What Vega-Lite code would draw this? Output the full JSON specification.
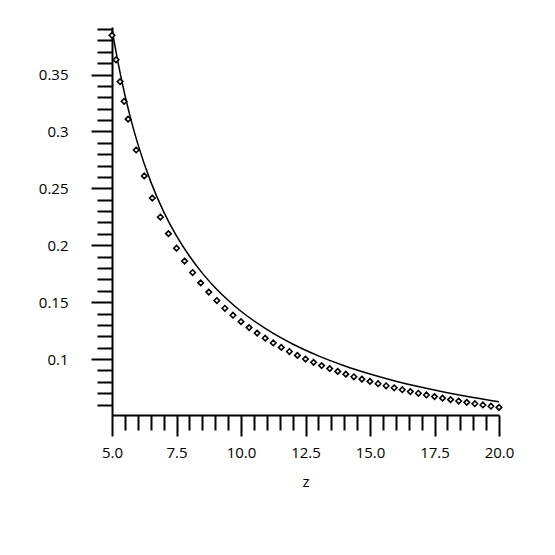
{
  "$schema": "https://vega.github.io/schema/vega-lite/v6.json",
  "autosize": "none",
  "width": 387,
  "height": 388,
  "padding": {"left": 112, "top": 27, "right": 56, "bottom": 140},
  "background": "white",
  "config": {"view": {"stroke": null}, "font": "Open Sans"},
  "datasets": {
    "curve": [
      {"z": 5, "y": 0.3900}, {"z": 5.25, "y": 0.3587}, {"z": 5.5, "y": 0.3320}, {"z": 5.75, "y": 0.3091},
      {"z": 6, "y": 0.2891}, {"z": 6.5, "y": 0.2559}, {"z": 7, "y": 0.2296}, {"z": 7.5, "y": 0.2082},
      {"z": 8, "y": 0.1905}, {"z": 8.5, "y": 0.1755}, {"z": 9, "y": 0.1627}, {"z": 9.5, "y": 0.1517},
      {"z": 10, "y": 0.1420}, {"z": 11, "y": 0.1260}, {"z": 12, "y": 0.1132}, {"z": 13, "y": 0.1028},
      {"z": 14, "y": 0.0941}, {"z": 15, "y": 0.0868}, {"z": 16, "y": 0.0805}, {"z": 17, "y": 0.0751},
      {"z": 18, "y": 0.0704}, {"z": 19, "y": 0.0662}, {"z": 20, "y": 0.0625}
    ],
    "pts": [
      {"z": 5, "y": 0.3845}, {"z": 5.156, "y": 0.3630}, {"z": 5.3125, "y": 0.3438}, {"z": 5.469, "y": 0.3265},
      {"z": 5.625, "y": 0.3108}, {"z": 5.9375, "y": 0.2837}, {"z": 6.25, "y": 0.2609}, {"z": 6.5625, "y": 0.2415},
      {"z": 6.875, "y": 0.2248}, {"z": 7.1875, "y": 0.2102}, {"z": 7.5, "y": 0.1974}, {"z": 7.8125, "y": 0.1861},
      {"z": 8.125, "y": 0.1760}, {"z": 8.4375, "y": 0.1669}, {"z": 8.75, "y": 0.1588}, {"z": 9.0625, "y": 0.1514},
      {"z": 9.375, "y": 0.1446}, {"z": 9.6875, "y": 0.1385}, {"z": 10, "y": 0.1328}, {"z": 10.3125, "y": 0.1276},
      {"z": 10.625, "y": 0.1228}, {"z": 10.9375, "y": 0.1183}, {"z": 11.25, "y": 0.1141}, {"z": 11.5625, "y": 0.1102},
      {"z": 11.875, "y": 0.1066}, {"z": 12.1875, "y": 0.1032}, {"z": 12.5, "y": 0.1000}, {"z": 12.8125, "y": 0.0971},
      {"z": 13.125, "y": 0.0942}, {"z": 13.4375, "y": 0.0916}, {"z": 13.75, "y": 0.0891}, {"z": 14.0625, "y": 0.0867},
      {"z": 14.375, "y": 0.0844}, {"z": 14.6875, "y": 0.0823}, {"z": 15, "y": 0.0803}, {"z": 15.3125, "y": 0.0783},
      {"z": 15.625, "y": 0.0765}, {"z": 15.9375, "y": 0.0747}, {"z": 16.25, "y": 0.0730}, {"z": 16.5625, "y": 0.0714},
      {"z": 16.875, "y": 0.0699}, {"z": 17.1875, "y": 0.0684}, {"z": 17.5, "y": 0.0670}, {"z": 17.8125, "y": 0.0656},
      {"z": 18.125, "y": 0.0643}, {"z": 18.4375, "y": 0.0631}, {"z": 18.75, "y": 0.0619}, {"z": 19.0625, "y": 0.0607},
      {"z": 19.375, "y": 0.0596}, {"z": 19.6875, "y": 0.0585}, {"z": 20, "y": 0.0575}
    ]
  },
  "encoding": {
    "x": {
      "field": "z", "type": "quantitative",
      "scale": {"domain": [5, 20], "nice": false, "zero": false},
      "axis": {
        "title": "z", "titleFontWeight": "normal", "titleFontSize": 15, "titleColor": "black", "titlePadding": 14,
        "values": [5, 5.5, 6, 6.5, 7, 7.5, 8, 8.5, 9, 9.5, 10, 10.5, 11, 11.5, 12, 12.5, 13, 13.5, 14, 14.5, 15, 15.5, 16, 16.5, 17, 17.5, 18, 18.5, 19, 19.5, 20],
        "labelExpr": "abs(datum.value/2.5 - round(datum.value/2.5)) < 0.001 ? format(datum.value, '.1f') : ''",
        "grid": false, "domainColor": "black", "domainWidth": 2,
        "tickColor": "black", "tickWidth": 2,
        "tickSize": {"condition": {"test": "abs(datum.value/2.5 - round(datum.value/2.5)) < 0.001", "value": 21}, "value": 15},
        "labelPadding": 9, "labelFontSize": 15, "labelColor": "black", "labelFlush": false, "labelOverlap": false
      }
    },
    "y": {
      "field": "y", "type": "quantitative",
      "scale": {"domain": [0.0508, 0.3918], "nice": false, "zero": false},
      "axis": {
        "title": null,
        "values": [0.06, 0.07, 0.08, 0.09, 0.1, 0.11, 0.12, 0.13, 0.14, 0.15, 0.16, 0.17, 0.18, 0.19, 0.2, 0.21, 0.22, 0.23, 0.24, 0.25, 0.26, 0.27, 0.28, 0.29, 0.3, 0.31, 0.32, 0.33, 0.34, 0.35, 0.36, 0.37, 0.38, 0.39],
        "labelExpr": "abs(datum.value*20 - round(datum.value*20)) < 0.001 ? toString(round(datum.value*100)/100) : ''",
        "grid": false, "domainColor": "black", "domainWidth": 2,
        "tickColor": "black", "tickWidth": 2,
        "tickSize": {"condition": {"test": "abs(datum.value*20 - round(datum.value*20)) < 0.001", "value": 21}, "value": 15},
        "labelPadding": 23, "labelFontSize": 15, "labelColor": "black", "labelOverlap": false, "labelFlush": false
      }
    }
  },
  "layer": [
    {
      "data": {"name": "curve"},
      "mark": {"type": "line", "color": "black", "strokeWidth": 1.5, "interpolate": "monotone"},
      "encoding": {}
    },
    {
      "data": {"name": "pts"},
      "mark": {"type": "point", "shape": "diamond", "size": 30, "filled": false, "fill": "white", "fillOpacity": 1, "stroke": "black", "strokeWidth": 1.6, "opacity": 1},
      "encoding": {}
    }
  ]
}
